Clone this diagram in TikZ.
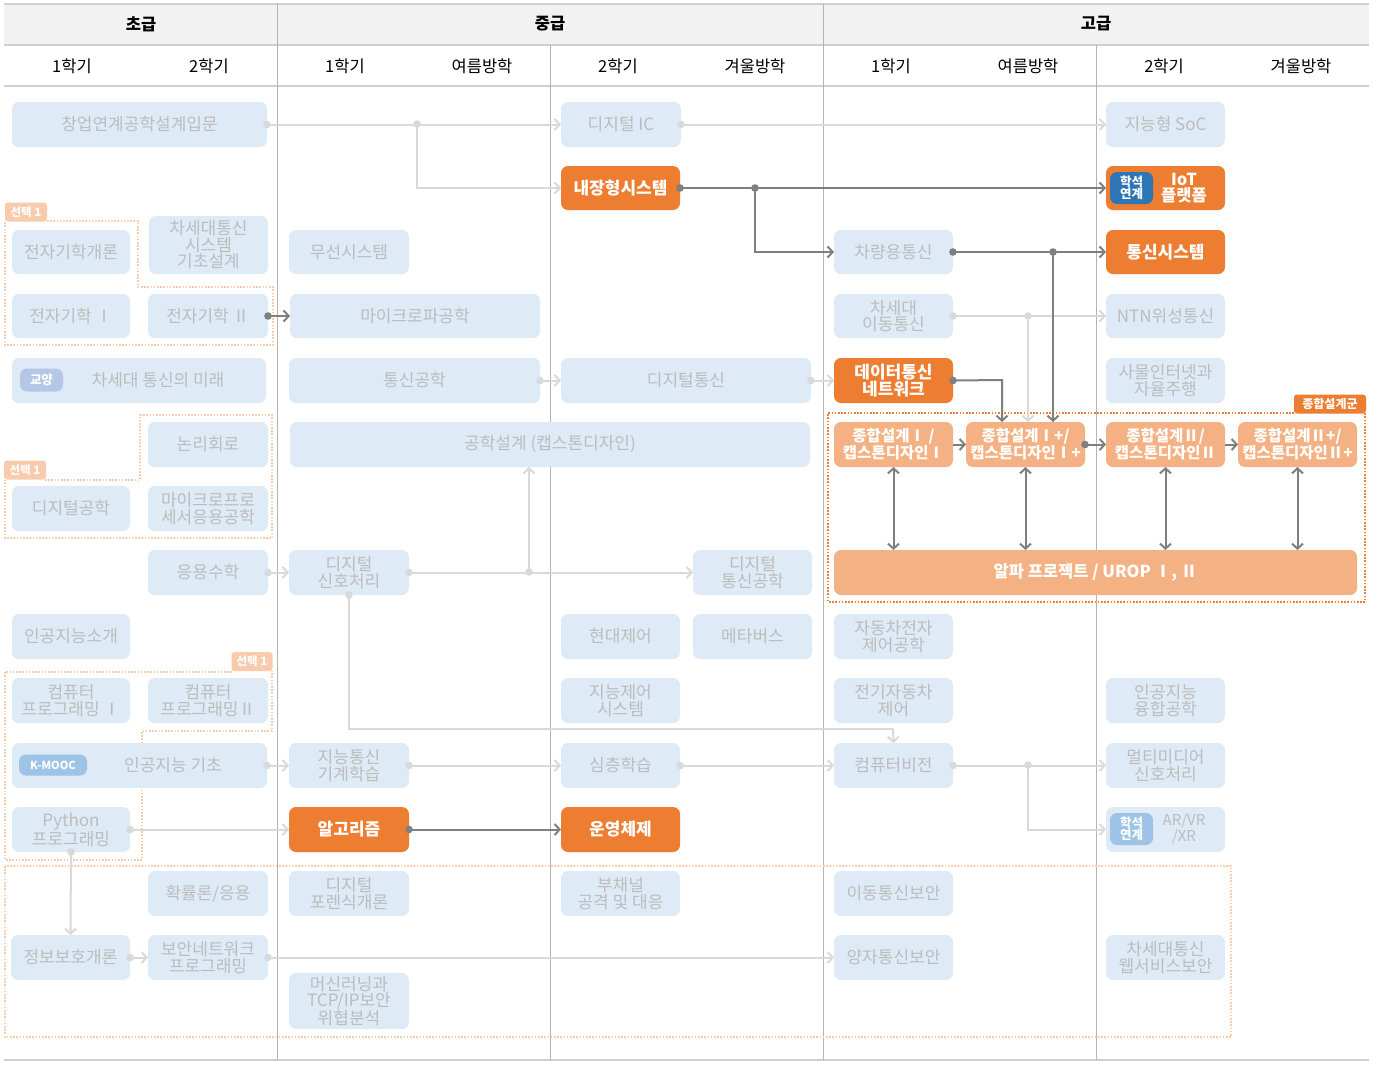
\documentclass[tikz,border=0pt]{standalone}
\usepackage{fontspec}
\setmainfont{Noto Sans CJK KR}
\usetikzlibrary{arrows.meta}
\definecolor{lbfill}{HTML}{DEEAF6}
\definecolor{ltxt}{HTML}{BCBCBC}
\definecolor{org}{HTML}{ED7D31}
\definecolor{lorg}{HTML}{F4B183}
\definecolor{tagc}{HTML}{F8CBAD}
\definecolor{lgl}{HTML}{D9D9D9}
\definecolor{dgl}{HTML}{7F7F7F}
\definecolor{hdr}{HTML}{F2F2F2}
\definecolor{hln}{HTML}{CFCFCF}
\definecolor{vln}{HTML}{B4B4B4}
\definecolor{pillA}{HTML}{B4C7E7}
\definecolor{pillB}{HTML}{9DC3E6}
\definecolor{pillC}{HTML}{2E75B6}
\newcommand\bx[7]{\node[#1, minimum width={#5-#3}, minimum height={#6-#4}] (#2) at ({(#3+#5)/2},{(#4+#6)/2}) {#7};}
\newcommand\dt[2]{\fill[#1] (#2) circle[radius=3.8pt];}
\tikzset{
  base/.style={rounded corners=7pt, inner sep=0pt, outer sep=0pt, align=center},
  lb/.style={base, fill=lbfill, text=ltxt, font=\fontsize{17}{16.5}\selectfont},
  ob/.style={base, fill=org, text=white, font=\fontsize{17}{16.5}\selectfont\bfseries},
  cb/.style={base, fill=lorg, text=white, font=\fontsize{15.5}{15.5}\selectfont\bfseries},
  lgc/.style={draw=lgl, line width=2pt, -{Straight Barb[length=5pt,width=11pt]}},
  dgc/.style={draw=dgl, line width=2pt, -{Straight Barb[length=5pt,width=11pt]}},
  dgd/.style={draw=dgl, line width=2pt, {Straight Barb[length=5pt,width=11pt]}-{Straight Barb[length=5pt,width=11pt]}},
  grp/.style={draw=tagc, line width=1.6pt, dash pattern=on 1.6pt off 1.6pt},
  grpo/.style={draw=org, line width=1.6pt, dash pattern=on 1.6pt off 1.6pt},
  tagbox/.style={fill=tagc, text=white, inner sep=0pt, rounded corners=3pt, font=\fontsize{11.5}{12}\selectfont\bfseries},
  pill/.style={rounded corners=7pt, inner sep=0pt, text=white, align=center, font=\fontsize{12.5}{12.5}\selectfont\bfseries},
  ltext/.style={text=ltxt, align=center, inner sep=0pt, font=\fontsize{17}{16.5}\selectfont},
  htext/.style={text=black, inner sep=0pt, font=\fontsize{16.5}{18}\selectfont},
}
\begin{document}
\begin{tikzpicture}[x=1pt,y=-1pt]
\useasboundingbox (0,0) rectangle (1374,1066);
\fill[white] (0,0) rectangle (1374,1066);
% header
\fill[hdr] (4,4) rectangle (1369,45);
\draw[hln, line width=1.5pt] (4,4) -- (1369,4);
\draw[hln, line width=2pt] (4,45) -- (1369,45);
\draw[hln, line width=1.5pt] (4,86) -- (1369,86);
\draw[hln, line width=1.5pt] (4,1060) -- (1369,1060);
\draw[vln, line width=1pt] (277,4) -- (277,1060);
\draw[vln, line width=1pt] (823,4) -- (823,1060);
\draw[vln, line width=1pt] (550,45) -- (550,1060);
\draw[vln, line width=1pt] (1096,45) -- (1096,1060);
\node[htext, font=\fontsize{16.5}{18}\selectfont\bfseries] (h1) at (141,24) {초급};
\node[htext, font=\fontsize{16.5}{18}\selectfont\bfseries] (h2) at (550,24) {중급};
\node[htext, font=\fontsize{16.5}{18}\selectfont\bfseries] (h3) at (1096,24) {고급};
\node[htext] (s1) at (72,66) {1학기};
\node[htext] (s2) at (209,66) {2학기};
\node[htext] (s3) at (345,66) {1학기};
\node[htext] (s4) at (482,66) {여름방학};
\node[htext] (s5) at (618,66) {2학기};
\node[htext] (s6) at (755,66) {겨울방학};
\node[htext] (s7) at (891,66) {1학기};
\node[htext] (s8) at (1028,66) {여름방학};
\node[htext] (s9) at (1164,66) {2학기};
\node[htext] (s10) at (1301,66) {겨울방학};
% groups
\draw[grp] (47,221) -- (138,221) -- (138,287) -- (273,287) -- (273,345) -- (5,345) -- (5,221);
\node[tagbox, minimum width=42, minimum height=19] (tg1) at (26,212) {선택 1};
\draw[grp] (45,480) -- (140,480) -- (140,415) -- (272,415) -- (272,538) -- (5,538) -- (5,480);
\node[tagbox, minimum width=42, minimum height=19] (tg2) at (25,470) {선택 1};
\draw[grp] (232,672) -- (5,672) -- (5,860) -- (142,860) -- (142,731) -- (272,731) -- (272,671);
\node[tagbox, minimum width=41, minimum height=19] (tg3) at (252,661.5) {선택 1};
\draw[grp] (5,866) rectangle (1231,1037);
\draw[grpo] (1294,413) -- (828,413) -- (828,602) -- (1365,602) -- (1365,413);
\node[tagbox, fill=org, minimum width=72, minimum height=19, font=\fontsize{12}{12}\selectfont\bfseries] (tg4) at (1330,404) {종합설계군};
% row 1
\bx{lb}{chang}{12}{102}{267}{147}{창업연계공학설계입문}
\bx{lb}{dic}{561}{102}{681}{147}{디지털 IC}
\bx{lb}{soc}{1106}{102}{1225}{147}{지능형 SoC}
% row 2
\bx{ob}{nae}{561}{166}{680}{210}{내장형시스템}
\bx{ob}{iot}{1106}{166}{1225}{210}{}
\node[pill, fill=pillC, minimum width=43, minimum height=32] (iotp) at (1131.5,188) {학석\\연계};
\node[text=white, align=center, inner sep=0pt, font=\fontsize{16.5}{15.5}\selectfont\bfseries] (iott) at (1184,188) {IoT\\플랫폼};
% row 3
\bx{lb}{jgk}{12}{230}{130}{274}{전자기학개론}
\bx{lb}{chs}{149}{216}{268}{274}{차세대통신\\시스템\\기초설계}
\bx{lb}{mus}{289}{230}{409}{274}{무선시스템}
\bx{lb}{cha}{834}{230}{953}{274}{차량용통신}
\bx{ob}{tsys}{1106}{230}{1225}{274}{통신시스템}
% row 4
\bx{lb}{ja}{12}{294}{130}{338}{전자기학 Ⅰ}
\bx{lb}{jb}{148}{294}{268}{338}{전자기학 Ⅱ}
\bx{lb}{micro}{290}{294}{540}{338}{마이크로파공학}
\bx{lb}{nmob}{834}{294}{953}{338}{차세대\\이동통신}
\bx{lb}{ntn}{1106}{294}{1225}{338}{NTN위성통신}
% row 5
\bx{lb}{future}{12}{358}{266}{403}{}
\node[pill, fill=pillA, minimum width=43, minimum height=23] (fp) at (41.5,380) {교양};
\node[ltext] (ft) at (158,380) {차세대 통신의 미래};
\bx{lb}{tg}{289}{358}{540}{403}{통신공학}
\bx{lb}{dcom}{561}{358}{811}{403}{디지털통신}
\bx{ob}{data}{834}{358}{953}{403}{데이터통신\\네트워크}
\bx{lb}{iota}{1106}{358}{1225}{403}{사물인터넷과\\자율주행}
% row 6
\bx{lb}{logic}{148}{422}{268}{467}{논리회로}
\bx{lb}{cap}{290}{422}{810}{467}{공학설계 (캡스톤디자인)}
\bx{cb}{ca}{834}{422}{953}{467}{종합설계Ⅰ /\\캡스톤디자인Ⅰ}
\bx{cb}{cap1}{966}{422}{1085}{467}{종합설계Ⅰ+/\\캡스톤디자인Ⅰ+}
\bx{cb}{cb2}{1106}{422}{1225}{467}{종합설계Ⅱ/\\캡스톤디자인Ⅱ}
\bx{cb}{cap2}{1238}{422}{1357}{467}{종합설계Ⅱ+/\\캡스톤디자인Ⅱ+}
% row 7
\bx{lb}{dige}{12}{486}{130}{531}{디지털공학}
\bx{lb}{mpu}{148}{486}{268}{531}{마이크로프로\\세서응용공학}
% row 8
\bx{lb}{amath}{148}{550}{268}{595}{응용수학}
\bx{lb}{dsp}{289}{550}{409}{595}{디지털\\신호처리}
\bx{lb}{dcomm}{693}{550}{812}{595}{디지털\\통신공학}
\bx{cb}{alpha}{834}{550}{1357}{595}{\fontsize{16.5}{16.5}\selectfont 알파 프로젝트 / UROP Ⅰ, Ⅱ}
% row 9
\bx{lb}{aii}{12}{614}{130}{659}{인공지능소개}
\bx{lb}{mctl}{561}{614}{680}{659}{현대제어}
\bx{lb}{meta}{693}{614}{812}{659}{메타버스}
\bx{lb}{autoc}{834}{614}{953}{659}{자동차전자\\제어공학}
% row 10
\bx{lb}{cpa}{12}{678}{130}{723}{컴퓨터\\프로그래밍 Ⅰ}
\bx{lb}{cpb}{148}{678}{268}{723}{컴퓨터\\프로그래밍Ⅱ}
\bx{lb}{ictl}{561}{678}{680}{723}{지능제어\\시스템}
\bx{lb}{ev}{834}{678}{953}{723}{전기자동차\\제어}
\bx{lb}{aif}{1106}{678}{1225}{723}{인공지능\\융합공학}
% row 11
\bx{lb}{aib}{12}{743}{267}{788}{}
\node[pill, fill=pillB, minimum width=68, minimum height=21, font=\fontsize{11}{11}\selectfont\bfseries] (kp) at (53,765) {K-MOOC};
\node[ltext] (kt) at (173,765) {인공지능 기초};
\bx{lb}{iml}{289}{743}{409}{788}{지능통신\\기계학습}
\bx{lb}{deep}{561}{743}{680}{788}{심층학습}
\bx{lb}{cv}{834}{743}{953}{788}{컴퓨터비전}
\bx{lb}{mm}{1106}{743}{1225}{788}{멀티미디어\\신호처리}
% row 12
\bx{lb}{py}{12}{807}{130}{852}{Python\\프로그래밍}
\bx{ob}{algo}{289}{807}{409}{852}{알고리즘}
\bx{ob}{os}{561}{807}{680}{852}{운영체제}
\bx{lb}{arvr}{1106}{807}{1225}{852}{}
\node[pill, fill=pillB, minimum width=43, minimum height=32] (arp) at (1131.5,829) {학석\\연계};
\node[ltext, font=\fontsize{15}{16}\selectfont] (art) at (1184,829) {AR/VR\\/XR};
% row 13
\bx{lb}{prob}{148}{871}{268}{916}{확률론/응용}
\bx{lb}{foren}{289}{871}{409}{916}{디지털\\포렌식개론}
\bx{lb}{side}{561}{871}{680}{916}{부채널\\공격 및 대응}
\bx{lb}{msec}{834}{871}{953}{916}{이동통신보안}
% row 14
\bx{lb}{isec}{11}{935}{130}{980}{정보보호개론}
\bx{lb}{snet}{148}{935}{268}{980}{보안네트워크\\프로그래밍}
\bx{lb}{qsec}{834}{935}{953}{980}{양자통신보안}
\bx{lb}{wsec}{1106}{935}{1225}{980}{차세대통신\\웹서비스보안}
% row 15
\bx{lb}{mlsec}{289}{973}{409}{1029}{머신러닝과\\TCP/IP보안\\위협분석}
% light connectors
\coordinate (b1) at (417,124);
\coordinate (b2) at (1028,316);
\coordinate (b3) at (529,572);
\coordinate (b4) at (893,729);
\coordinate (b5) at (1028,765);
\draw[lgc] (chang.east) -- (dic.west);
\draw[lgc] (b1) |- (nae.west);
\dt{lgl}{chang.east} \dt{lgl}{b1}
\draw[lgc] (dic.east) -- (soc.west); \dt{lgl}{dic.east}
\draw[lgc] (tg.east) -- (dcom.west); \dt{lgl}{tg.east}
\draw[lgc] (dcom.east) -- (data.west); \dt{lgl}{dcom.east}
\draw[lgc] (nmob.east) -- (ntn.west); \dt{lgl}{nmob.east}
\draw[lgc] (b2) -- (b2 |- cap1.north); \dt{lgl}{b2}
\draw[lgc] (amath.east) -- (dsp.west); \dt{lgl}{amath.east}
\draw[lgc] (dsp.east) -- (dcomm.west); \dt{lgl}{dsp.east}
\draw[lgc] (b3) -- (b3 |- cap.south); \dt{lgl}{b3}
\draw[lgc] (dsp.south) |- (b4) -- (cv.north); \dt{lgl}{dsp.south}
\draw[lgc] (aib.east) -- (iml.west); \dt{lgl}{aib.east}
\draw[lgc] (iml.east) -- (deep.west); \dt{lgl}{iml.east}
\draw[lgc] (deep.east) -- (cv.west); \dt{lgl}{deep.east}
\draw[lgc] (cv.east) -- (mm.west); \dt{lgl}{cv.east}
\draw[lgc] (b5) |- (arvr.west); \dt{lgl}{b5}
\draw[lgc] (py.east) -- (algo.west); \dt{lgl}{py.east}
\draw[lgc] (py.south) -- (isec.north); \dt{lgl}{py.south}
\draw[lgc] (isec.east) -- (snet.west); \dt{lgl}{isec.east}
\draw[lgc] (snet.east) -- (qsec.west); \dt{lgl}{snet.east}
% dark connectors
\coordinate (b6) at (755,188);
\coordinate (b7) at (1053,252);
\coordinate (b8) at (1002,380);
\draw[dgc] (jb.east) -- (micro.west); \dt{dgl}{jb.east}
\draw[dgc] (nae.east) -- (iot.west); \dt{dgl}{nae.east}
\draw[dgc] (b6) |- (cha.west); \dt{dgl}{b6}
\draw[dgc] (cha.east) -- (tsys.west); \dt{dgl}{cha.east}
\draw[dgc] (b7) -- (b7 |- cap1.north); \dt{dgl}{b7}
\draw[dgc] (data.east) -- (b8) -- (b8 |- cap1.north); \dt{dgl}{data.east}
\draw[dgc] (algo.east) -- (os.west); \dt{dgl}{algo.east}
\draw[dgc] (ca.east) -- (cap1.west);
\draw[dgc] (cap1.east) -- (cb2.west); \dt{dgl}{cap1.east}
\draw[dgc] (cb2.east) -- (cap2.west);
\draw[dgd] (ca.south) -- (ca.south |- alpha.north);
\draw[dgd] (cap1.south) -- (cap1.south |- alpha.north);
\draw[dgd] (cb2.south) -- (cb2.south |- alpha.north);
\draw[dgd] (cap2.south) -- (cap2.south |- alpha.north);
\end{tikzpicture}
\end{document}
